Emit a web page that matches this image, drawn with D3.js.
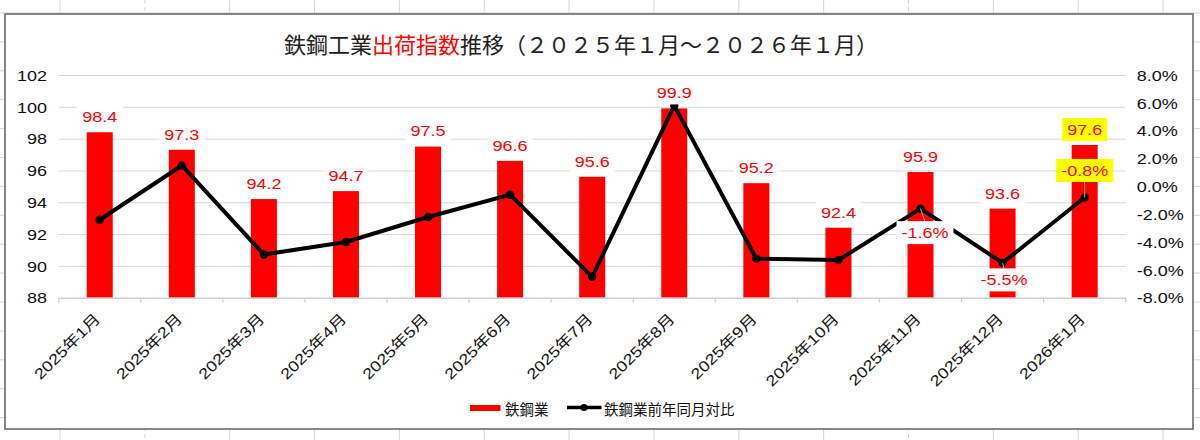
<!DOCTYPE html>
<html>
<head>
<meta charset="utf-8">
<script src="https://cdn.jsdelivr.net/npm/d3@7"></script>
<style>
  body { margin: 0; background: #fff; }
  svg { display: block; }
  .num { font-family: "Liberation Sans", Arial, sans-serif; }
  .cjk { font-family: "Noto Sans CJK JP", sans-serif; }
</style>
</head>
<body>
<svg id="c" width="1200" height="440"></svg>
<script>
// data
const months = ['2025年1月', '2025年2月', '2025年3月', '2025年4月', '2025年5月', '2025年6月', '2025年7月',
  '2025年8月', '2025年9月', '2025年10月', '2025年11月', '2025年12月', '2026年1月'];
const shipIndex = [98.4, 97.3, 94.2, 94.7, 97.5, 96.6, 95.6, 99.9, 95.2, 92.4, 95.9, 93.6, 97.6];
const yoyChange = [-2.4, 1.5, -4.9, -4.0, -2.2, -0.6, -6.5, 5.8, -5.2, -5.3, -1.6, -5.5, -0.8];
const leftTicks = [88, 90, 92, 94, 96, 98, 100, 102];
const rightTicks = [-8, -6, -4, -2, 0, 2, 4, 6, 8];
const seriesNames = ['鉄鋼業', '鉄鋼業前年同月対比'];
const yoyLabelled = [10, 11, 12];   // months whose YoY value is printed
const highlighted = 12;             // last month, yellow labels

// layout
const SX = 1.2;   // the numbers in the picture are drawn wide
const plot = { left: 58.7, right: 1125.7, top: 75, bottom: 297.7 };
// where Excel's dragged yoy labels sit, relative to their point
const yoyOffset = { 10: [4.5, 24], 11: [1.5, 17], 12: [0, -27] };

const svg = d3.select('#c');

// spreadsheet behind the chart
const sheet = svg.append('g');
d3.range(14).forEach(i => {
  const xx = 60 + i * 84.85;
  sheet.append('line').attr('x1', xx).attr('x2', xx).attr('y1', 0).attr('y2', 440)
    .attr('stroke', '#d6d6d6').attr('stroke-width', 1)
    .attr('stroke-dasharray', (i === 1 || i === 10) ? '4,3' : null);
});
d3.range(16).forEach(i => {
  const yy = 13 + i * 28.9;
  sheet.append('line').attr('x1', 0).attr('x2', 1200).attr('y1', yy).attr('y2', yy)
    .attr('stroke', '#d6d6d6').attr('stroke-width', 1);
});

// chart area
svg.append('rect').attr('x', 5).attr('y', 14).attr('width', 1188).attr('height', 415)
  .attr('fill', '#fff').attr('stroke', '#6a6a6a').attr('stroke-width', 1.6);

// title
const title = svg.append('text').attr('class', 'cjk')
  .attr('x', 581).attr('y', 43).attr('text-anchor', 'middle').attr('dominant-baseline', 'central')
  .attr('font-size', 22).attr('fill', '#222');
title.append('tspan').text('鉄鋼工業');
title.append('tspan').attr('fill', '#ff0000').text('出荷指数');
title.append('tspan').text('推移（２０２５年１月～２０２６年１月）');

// scales
const x = d3.scaleBand().domain(months).range([plot.left, plot.right]);
const yL = d3.scaleLinear().domain([88, 102]).range([plot.bottom, plot.top]);
const yR = d3.scaleLinear().domain([-8, 8]).range([plot.bottom, plot.top]);
const cx = m => x(m) + x.bandwidth() / 2;
const barW = x.bandwidth() * 0.317;

// gridlines
svg.append('g').attr('transform', `translate(${plot.left},0)`)
  .call(d3.axisLeft(yL).tickValues(leftTicks.slice(1)).tickSize(-(plot.right - plot.left)).tickFormat(''))
  .call(g => g.select('.domain').remove())
  .call(g => g.selectAll('line').attr('stroke', '#d9d9d9').attr('stroke-width', 1));

// left axis
svg.append('g').attr('transform', `translate(${plot.left},0)`)
  .call(d3.axisLeft(yL).tickValues(leftTicks).tickSize(0).tickFormat(d3.format('d')))
  .call(g => g.select('.domain').remove())
  .call(g => g.selectAll('text').attr('class', 'num').attr('font-size', 15).attr('fill', '#111')
    .attr('x', -11.7 / SX).attr('dy', '0.35em').attr('transform', `scale(${SX},1)`));

// right axis
svg.append('g').attr('transform', `translate(${plot.right},0)`)
  .call(d3.axisRight(yR).tickValues(rightTicks).tickSize(0).tickFormat(d => d.toFixed(1) + '%'))
  .call(g => g.select('.domain').remove())
  .call(g => g.selectAll('text').attr('class', 'num').attr('font-size', 15).attr('fill', '#111')
    .attr('x', 11 / SX).attr('dy', '0.35em').attr('transform', `scale(${SX},1)`));

// bars
svg.append('g').selectAll('rect').data(shipIndex).join('rect')
  .attr('x', (d, i) => cx(months[i]) - barW / 2)
  .attr('y', d => yL(d))
  .attr('width', barW)
  .attr('height', d => yL(88) - yL(d))
  .attr('fill', '#ff0000');

// bottom axis
const xAxis = svg.append('g').attr('transform', `translate(0,${plot.bottom})`)
  .call(d3.axisBottom(x).tickSize(0).tickFormat(''))
  .call(g => g.select('.domain').attr('stroke', '#d0d0d0').attr('stroke-width', 1.6));
months.concat([null]).forEach((m, i) => {
  const bx = m ? x(m) : plot.right;
  xAxis.append('line').attr('x1', bx).attr('x2', bx).attr('y1', 0).attr('y2', 5)
    .attr('stroke', '#d0d0d0').attr('stroke-width', 1.2);
});
xAxis.selectAll('.tick').each(function (m) {
  d3.select(this).select('text').remove();
});
svg.append('g').selectAll('text').data(months).join('text')
  .attr('font-family', '"Liberation Sans", "Noto Sans CJK JP", sans-serif')
  .attr('font-size', 15).attr('fill', '#111')
  .attr('text-anchor', 'end').attr('dominant-baseline', 'central')
  .attr('transform', m => `translate(${cx(m) - 2},${plot.bottom + 18.5}) rotate(-45) scale(${SX},1)`)
  .text(m => m);

// yoy line
const line = d3.line().x((d, i) => cx(months[i])).y(d => yR(d));
svg.append('path').datum(yoyChange).attr('d', line)
  .attr('fill', 'none').attr('stroke', '#000').attr('stroke-width', 4)
  .attr('stroke-linejoin', 'round');
svg.append('g').selectAll('circle').data(yoyChange).join('circle')
  .attr('cx', (d, i) => cx(months[i])).attr('cy', d => yR(d)).attr('r', 4.2).attr('fill', '#000');

// label with a filled box behind it
function boxLabel(g, px, py, str, fill) {
  const grp = g.append('g').attr('transform', `translate(${px},${py})`);
  const rect = grp.append('rect').attr('fill', fill);
  const t = grp.append('text').attr('class', 'num').attr('font-size', 15).attr('fill', '#ff0000')
    .attr('text-anchor', 'middle').attr('dy', '0.36em').attr('transform', `scale(${SX},1)`).text(str);
  const w = t.node().getComputedTextLength() * SX + 10;
  rect.attr('x', -w / 2).attr('y', -11.5).attr('width', w).attr('height', 23);
}

const labels = svg.append('g');

// leader lines for the moved yoy labels
yoyLabelled.forEach(i => {
  const px = cx(months[i]), py = yR(yoyChange[i]);
  const [ox, oy] = yoyOffset[i];
  labels.append('line').attr('x1', px).attr('y1', py)
    .attr('x2', px + ox).attr('y2', py + oy + (oy > 0 ? -11 : 11))
    .attr('stroke', '#b0b0b0').attr('stroke-width', 1);
});

shipIndex.forEach((v, i) => {
  boxLabel(labels, cx(months[i]), yL(v) - 15.5, v.toFixed(1), i === highlighted ? '#ffff00' : '#fff');
});
yoyLabelled.forEach(i => {
  const [ox, oy] = yoyOffset[i];
  boxLabel(labels, cx(months[i]) + ox, yR(yoyChange[i]) + oy, yoyChange[i].toFixed(1) + '%',
    i === highlighted ? '#ffff00' : '#fff');
});

// legend
const lg = svg.append('g');
lg.append('rect').attr('x', 470).attr('y', 405).attr('width', 30.5).attr('height', 6).attr('fill', '#ff0000');
lg.append('text').attr('class', 'cjk').attr('x', 505).attr('y', 408).attr('dominant-baseline', 'central')
  .attr('font-size', 14.5).attr('fill', '#111').text(seriesNames[0]);
lg.append('line').attr('x1', 567).attr('x2', 601.5).attr('y1', 407.5).attr('y2', 407.5)
  .attr('stroke', '#000').attr('stroke-width', 3.5);
lg.append('circle').attr('cx', 584).attr('cy', 407.5).attr('r', 3.6).attr('fill', '#000');
lg.append('text').attr('class', 'cjk').attr('x', 604).attr('y', 408).attr('dominant-baseline', 'central')
  .attr('font-size', 14.5).attr('fill', '#111').text(seriesNames[1]);
</script>
</body>
</html>
